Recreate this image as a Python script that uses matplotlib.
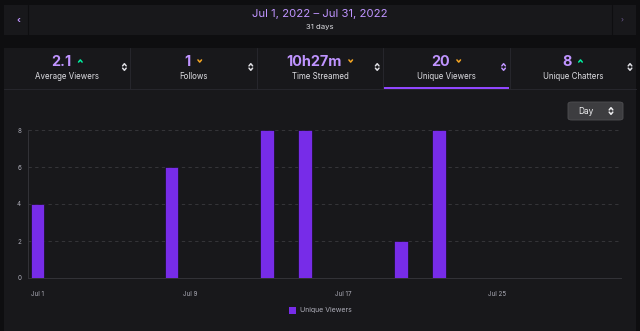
import numpy as np
import matplotlib.pyplot as plt
from matplotlib.patches import Rectangle, FancyBboxPatch
from matplotlib.lines import Line2D

plt.rcParams['font.family'] = ['Inter', 'DejaVu Sans']

# data
days = np.arange(1, 32)
viewer_days = [1, 8, 13, 15, 20, 22]
viewer_counts = [4, 6, 8, 8, 2, 8]
values = np.zeros(len(days))
for d, v in zip(viewer_days, viewer_counts):
    values[d - 1] = v

tick_days = [1, 9, 17, 25]
tick_labels = ["Jul 1", "Jul 9", "Jul 17", "Jul 25"]
y_ticks = [0, 2, 4, 6, 8]

stat_values = ["2.1", "1", "10h27m", "20", "8"]
stat_labels = ["Average Viewers", "Follows", "Time Streamed", "Unique Viewers", "Unique Chatters"]
stat_trend = ["up", "down", "down", "down", "up"]

W, H = 640, 331
BG = "#0e0e10"
PANEL = "#18181b"
PURPLE_TXT = "#bf94ff"
BAR = "#772ce8"
GREEN = "#00f0a0"
ORANGE = "#f5a623"

fig = plt.figure(figsize=(W / 100, H / 100), dpi=100, facecolor=BG)


def fx(x):
    return x / W


def fy(y):
    return 1 - y / H


def rect(x0, y0, x1, y1, color, z=-1):
    fig.add_artist(Rectangle((fx(x0), fy(y1)), fx(x1) - fx(x0), fy(y0) - fy(y1),
                             transform=fig.transFigure, facecolor=color, edgecolor="none",
                             zorder=z))


def line(xs, ys, color, lw=1.0):
    fig.add_artist(Line2D([fx(x) for x in xs], [fy(y) for y in ys],
                          transform=fig.transFigure, color=color, lw=lw,
                          solid_capstyle="round", solid_joinstyle="round"))


def chevron(x, y, up, color, s=2.0):
    if up:
        line([x - s, x, x + s], [y + s * 0.6, y - s * 0.6, y + s * 0.6], color, lw=1.1)
    else:
        line([x - s, x, x + s], [y - s * 0.6, y + s * 0.6, y - s * 0.6], color, lw=1.1)


def sort_icon(x, y, color):
    chevron(x, y - 2.2, True, color, s=1.8)
    chevron(x, y + 2.2, False, color, s=1.8)


# top date panel
rect(4, 5, 636, 35, PANEL)
line([28, 28], [5, 35], "#0e0e10", lw=0.8)
line([612, 612], [5, 35], "#0e0e10", lw=0.8)
fig.text(fx(18.5), fy(20), "\u2039", color=PURPLE_TXT, fontsize=6.5, fontweight="bold",
         ha="center", va="center")
fig.text(fx(622), fy(20), "\u203a", color="#6c5a90", fontsize=5.5, ha="center", va="center")
fig.text(fx(320), fy(14), "Jul 1, 2022 \u2013 Jul 31, 2022", color=PURPLE_TXT, fontsize=8.2,
         ha="center", va="center")
fig.text(fx(320), fy(27.5), "31 days", color="#dedee3", fontsize=5.6, ha="center", va="center")

# stats panel + chart panel
rect(4, 48, 636, 331, PANEL)
line([4, 636], [89, 89], "#26262c", lw=0.8)
tab_w = (636 - 4) / 5
for i in range(5):
    x0 = 4 + i * tab_w
    cx = x0 + tab_w / 2
    if i > 0:
        line([x0, x0], [48, 89], "#26262c", lw=0.8)
    t = fig.text(fx(cx - 6), fy(62), stat_values[i], color=PURPLE_TXT, fontsize=10.4,
                 fontweight="bold", ha="center", va="center")
    fig.canvas.draw()
    right = t.get_window_extent().x1
    color = GREEN if stat_trend[i] == "up" else ORANGE
    chevron(right + 9, 61, stat_trend[i] == "up", color, s=1.8)
    fig.text(fx(cx), fy(77), stat_labels[i], color="#dedee3", fontsize=5.7,
             ha="center", va="center")
    sort_icon(x0 + tab_w - 6, 67, PURPLE_TXT if i == 3 else "#dedee3")
    if i == 3:
        rect(x0 + 1, 86.5, x0 + tab_w - 1, 88.5, "#9147ff", z=2)

# Day selector button
fig.add_artist(FancyBboxPatch((fx(568), fy(120)), fx(623) - fx(568), fy(102) - fy(120),
                              boxstyle="round,pad=0,rounding_size=0.006",
                              transform=fig.transFigure, facecolor="#3d3d40",
                              edgecolor="#4f4f52", lw=0.6))
fig.text(fx(578), fy(111), "Day", color="#efeff1", fontsize=6.0, ha="left", va="center")
sort_icon(611, 111, "#efeff1")

# chart axes
ax = fig.add_axes([fx(28), fy(278), fx(621) - fx(28), fy(130) - fy(278)])
ax.set_zorder(3)
ax.set_facecolor(PANEL)
ax.bar(days, values, width=0.72, color=BAR, edgecolor="#0a0a0a", linewidth=0.4, zorder=3)
ax.set_xlim(0.5, 31.5)
ax.set_ylim(0, 8)
ax.set_yticks(y_ticks)
ax.set_yticklabels([str(v) for v in y_ticks])
ax.set_xticks(tick_days)
ax.set_xticklabels(tick_labels)
ax.tick_params(axis="both", length=0, labelsize=4.5, colors="#adadb8")
ax.tick_params(axis="y", pad=5)
ax.tick_params(axis="x", pad=9)
ax.grid(axis="y", color="#3a3a3e", linestyle=(0, (4, 4)), lw=0.6, zorder=0)
for s in ["top", "right"]:
    ax.spines[s].set_visible(False)
ax.spines["left"].set_color("#333338")
ax.spines["left"].set_linewidth(0.7)
ax.spines["bottom"].set_color("#333338")
ax.spines["bottom"].set_linewidth(0.7)

# legend
rect(289, 306.5, 296, 313.5, BAR, z=2)
fig.text(fx(300), fy(310), "Unique Viewers", color="#adadb8", fontsize=5, ha="left", va="center")

fig.savefig("out.png", dpi=100, facecolor=BG)
